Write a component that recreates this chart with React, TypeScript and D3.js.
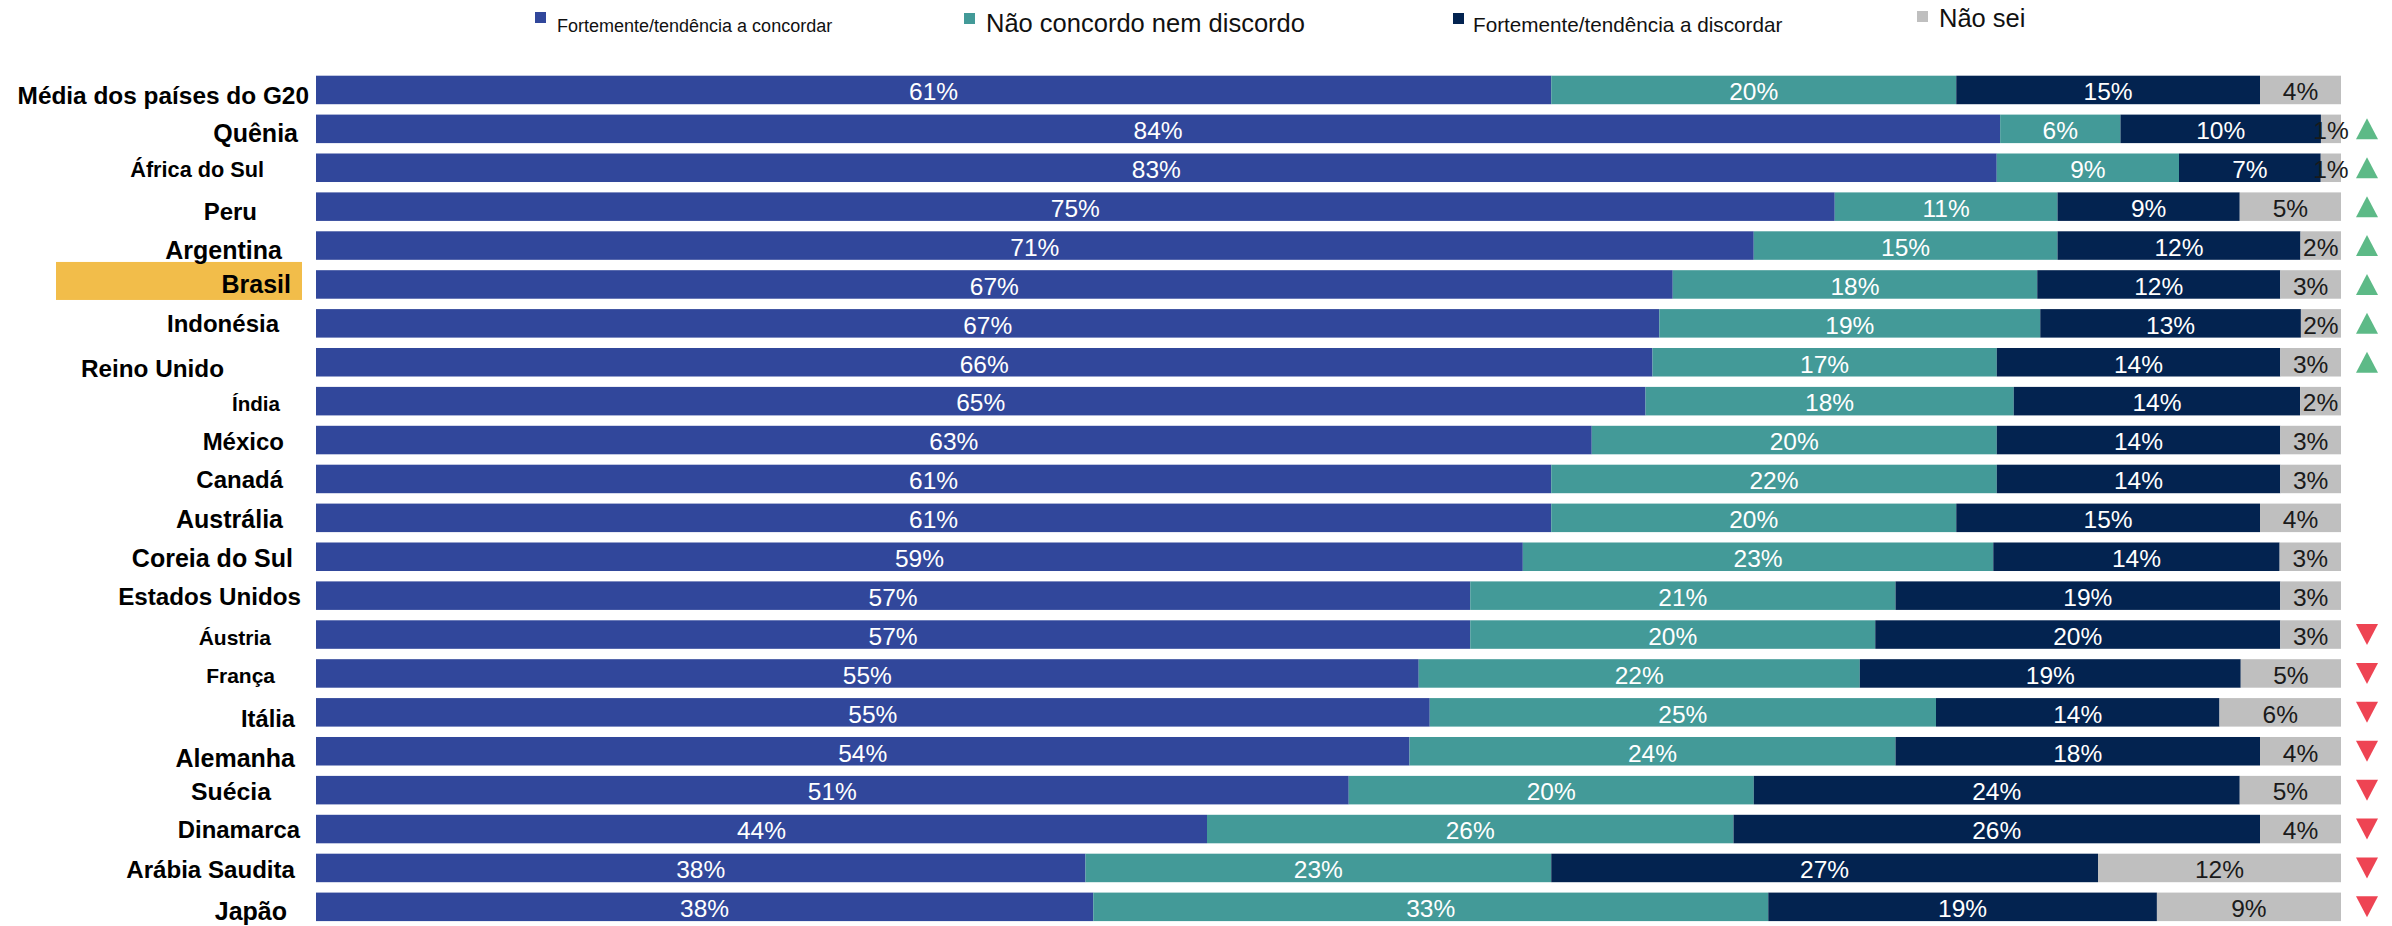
import React from "react";
import * as d3 from "d3";

// ---------- data ----------
const countries = [
  "Média dos países do G20", "Quênia", "África do Sul", "Peru", "Argentina", "Brasil",
  "Indonésia", "Reino Unido", "Índia", "México", "Canadá", "Austrália", "Coreia do Sul",
  "Estados Unidos", "Áustria", "França", "Itália", "Alemanha", "Suécia", "Dinamarca",
  "Arábia Saudita", "Japão",
];
const agree = [61, 84, 83, 75, 71, 67, 67, 66, 65, 63, 61, 61, 59, 57, 57, 55, 55, 54, 51, 44, 38, 38];
const neutral = [20, 6, 9, 11, 15, 18, 19, 17, 18, 20, 22, 20, 23, 21, 20, 22, 25, 24, 20, 26, 23, 33];
const disagree = [15, 10, 7, 9, 12, 12, 13, 14, 14, 14, 14, 15, 14, 19, 20, 19, 14, 18, 24, 26, 27, 19];
const dontKnow = [4, 1, 1, 5, 2, 3, 2, 3, 2, 3, 3, 4, 3, 3, 3, 5, 6, 4, 5, 4, 12, 9];
const trend = ["", "up", "up", "up", "up", "up", "up", "up", "", "", "", "", "", "", "down", "down", "down", "down", "down", "down", "down", "down"];
const highlighted = "Brasil";

const seriesKeys = ["agree", "neutral", "disagree", "dontKnow"];
const seriesLabels = [
  "Fortemente/tendência a concordar",
  "Não concordo nem discordo",
  "Fortemente/tendência a discordar",
  "Não sei",
];

// ---------- styling / layout ----------
const W = 2392;
const H = 926;
const colors = ["#31479b", "#439a98", "#032350", "#bfbfbf"];
const labelColors = ["#ffffff", "#ffffff", "#ffffff", "#1a1a1a"];
const FONT = "'Liberation Sans', Arial, Helvetica, sans-serif";

// per-category label placement: [right edge x, baseline offset from row centre, font size]
const labelLayout: [number, number, number][] = [
  [309, 14.3, 24.4], [298, 12.8, 25], [264, 8.9, 21.7], [257, 13.3, 24], [282, 13.4, 25],
  [291, 8.8, 25], [279, 8.3, 24], [224, 14.4, 24.3], [280, 9.8, 20.6], [284, 9.9, 24],
  [283, 9.3, 24], [283, 9.8, 25], [293, 9.9, 25], [301, 9.3, 24.2], [271, 10.4, 21],
  [275, 9.5, 21], [295, 14.6, 23.7], [295, 15.4, 25], [271, 9.8, 24.8], [300, 9.2, 23.9],
  [295, 10.3, 24.1], [287, 13, 25],
];

// legend: [square x, square y, text x, baseline y, font size]
const legendLayout: [number, number, number, number, number][] = [
  [535, 12, 557, 32, 18],
  [964, 13, 986, 32, 25.5],
  [1453, 13, 1473, 32, 20.7],
  [1917, 11, 1939, 27, 25.5],
];

export default function App() {
  const rows = countries.map((c, i) => {
    const vals = [agree[i], neutral[i], disagree[i], dontKnow[i]];
    const total = d3.sum(vals);
    const r: any = { country: c, trend: trend[i] };
    seriesKeys.forEach((k, j) => {
      r[k] = (vals[j] / total) * 100;
      r[k + "_lbl"] = vals[j];
    });
    return r;
  });

  const x = d3.scaleLinear().domain([0, 100]).range([316, 2341]);
  const y = d3
    .scaleBand<string>()
    .domain(countries)
    .range([75.7, 921.1])
    .paddingInner(0.267)
    .paddingOuter(0);

  const stack = d3.stack<any>().keys(seriesKeys);
  const stacked = stack(rows);
  const bw = y.bandwidth();

  return (
    <svg
      width={W}
      height={H}
      viewBox={`0 0 ${W} ${H}`}
      style={{ position: "absolute", left: 0, top: 0, display: "block", background: "#fff" }}
      fontFamily={FONT}
    >
      <rect x={0} y={0} width={W} height={H} fill="#fff" />

      {/* legend */}
      {seriesLabels.map((lbl, j) => {
        const [sx, sy, tx, ty, fs] = legendLayout[j];
        return (
          <g key={lbl}>
            <rect x={sx} y={sy} width={11} height={11} fill={colors[j]} />
            <text x={tx} y={ty} fontSize={fs} fill="#111">
              {lbl}
            </text>
          </g>
        );
      })}

      {/* highlight box */}
      {countries.map((c) =>
        c === highlighted ? (
          <rect
            key={"hl" + c}
            x={56}
            y={(y(c) as number) + bw / 2 - 22.5}
            width={246}
            height={38}
            fill="#f2bd4a"
          />
        ) : null
      )}

      {/* category labels */}
      {countries.map((c, i) => {
        const [rx, dy, fs] = labelLayout[i];
        const cy = (y(c) as number) + bw / 2;
        return (
          <text
            key={"lbl" + c}
            x={rx}
            y={cy + dy}
            textAnchor="end"
            fontWeight="bold"
            fontSize={fs}
            fill="#000"
          >
            {c}
          </text>
        );
      })}

      {/* bars */}
      {stacked.map((layer, j) => (
        <g key={layer.key} fill={colors[j]}>
          {layer.map((d, i) => (
            <rect
              key={i}
              x={x(d[0])}
              y={y(countries[i]) as number}
              width={x(d[1]) - x(d[0])}
              height={bw}
            />
          ))}
        </g>
      ))}

      {/* value labels */}
      {stacked.map((layer, j) => (
        <g key={"v" + layer.key} fill={labelColors[j]} fontSize={24.5} textAnchor="middle">
          {layer.map((d, i) => (
            <text
              key={i}
              x={(x(d[0]) + x(d[1])) / 2}
              y={(y(countries[i]) as number) + bw / 2 + 10.3}
            >
              {`${(d.data as any)[layer.key + "_lbl"]}%`}
            </text>
          ))}
        </g>
      ))}

      {/* trend markers */}
      {rows.map((r, i) => {
        if (!r.trend) return null;
        const cx = 2367;
        const cy = (y(countries[i]) as number) + bw / 2;
        const hw = 11;
        const hh = 10.5;
        const pts =
          r.trend === "up"
            ? `${cx},${cy - hh} ${cx + hw},${cy + hh} ${cx - hw},${cy + hh}`
            : `${cx - hw},${cy - hh} ${cx + hw},${cy - hh} ${cx},${cy + hh}`;
        return (
          <polygon
            key={"t" + i}
            points={pts}
            fill={r.trend === "up" ? "#5dba87" : "#ee4453"}
          />
        );
      })}
    </svg>
  );
}
